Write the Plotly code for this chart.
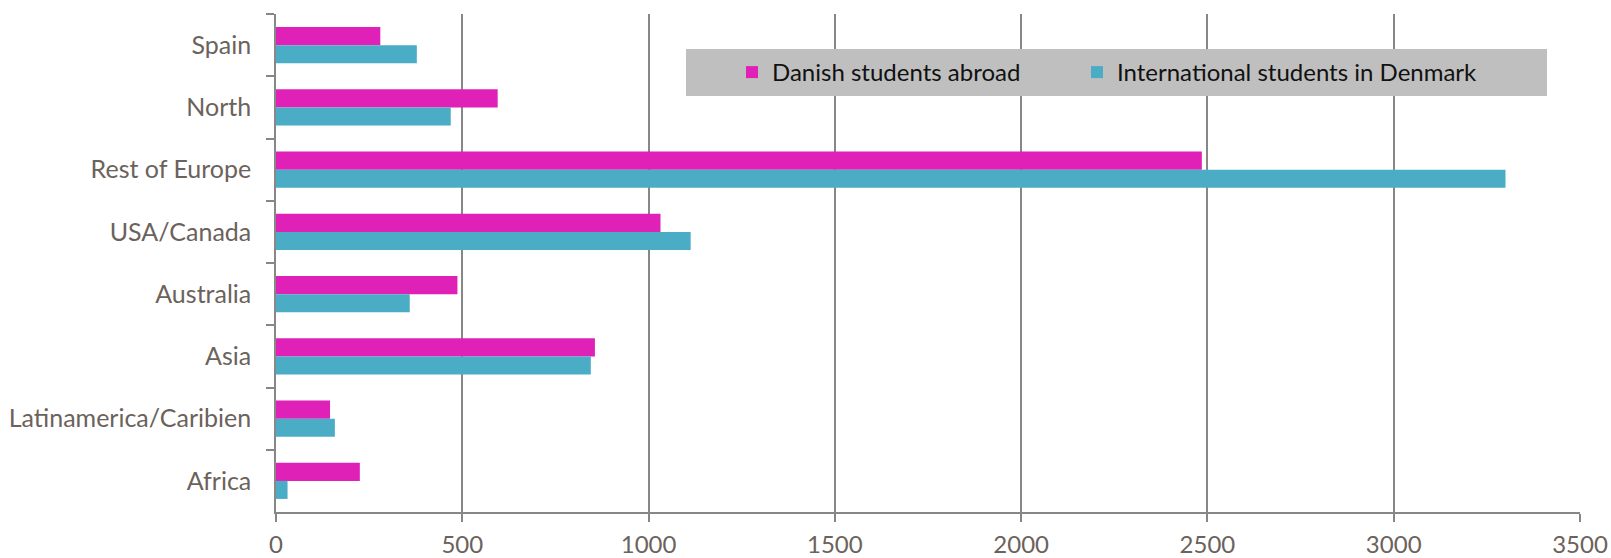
import plotly.graph_objects as go

categories = ["Spain", "North", "Rest of Europe", "USA/Canada", "Australia", "Asia",
              "Latinamerica/Caribien", "Africa"]
danish_abroad = [280, 595, 2485, 1032, 487, 856, 145, 225]
international_in_dk = [378, 469, 3300, 1113, 359, 845, 158, 31]
series_names = ["Danish students abroad", "International students in Denmark"]
x_ticks = [0, 500, 1000, 1500, 2000, 2500, 3000, 3500]

MAGENTA = "#DF21B7"
CYAN = "#4BACC6"
TEXT = "#6B625B"
GRID = "#878787"
FONT = "Lato"
FS = 25

W, H = 1611, 558
ml, mr, mt, mb = 276, 31, 14, 46
pw = W - ml - mr
ph = H - mt - mb


def px_x(px):
    return (px - ml) / pw


def px_y(py):
    return 1 - (py - mt) / ph


fig = go.Figure()
fig.add_trace(go.Bar(y=categories, x=danish_abroad, name=series_names[0], orientation="h",
                     marker=dict(color=MAGENTA, line=dict(width=0)), legend="legend"))
fig.add_trace(go.Bar(y=categories, x=international_in_dk, name=series_names[1], orientation="h",
                     marker=dict(color=CYAN, line=dict(width=0)), legend="legend2"))

legend_common = dict(
    orientation="h", xanchor="left", yanchor="middle", y=px_y(72.5),
    bgcolor="rgba(0,0,0,0)", borderwidth=0,
    font=dict(family=FONT, size=FS - 1, color="#111111"),
)

fig.update_layout(
    width=W, height=H,
    margin=dict(l=ml, r=mr, t=mt, b=mb, pad=0, autoexpand=False),
    paper_bgcolor="white", plot_bgcolor="white",
    barmode="group", bargap=0.42, bargroupgap=0,
    font=dict(family=FONT, size=FS, color=TEXT),
    showlegend=True,
    legend=dict(x=px_x(732), **legend_common),
    legend2=dict(x=px_x(1077), **legend_common),
    shapes=[dict(type="rect", xref="paper", yref="paper",
                 x0=px_x(686), x1=px_x(1547), y0=px_y(96), y1=px_y(49),
                 fillcolor="#BFBFBF", line=dict(width=0), layer="above")],
)

fig.update_xaxes(
    range=[0, 3500], tickvals=x_ticks, ticktext=[str(v) for v in x_ticks],
    showgrid=True, gridcolor=GRID, gridwidth=1.5,
    showline=True, linecolor=GRID, linewidth=1.5,
    ticks="outside", ticklen=8, tickcolor=GRID, tickwidth=1.5,
    zeroline=False, ticklabelstandoff=2, automargin=False,
    tickfont=dict(family=FONT, size=24, color=TEXT),
)
fig.update_yaxes(
    autorange="reversed", type="category",
    showgrid=False,
    showline=True, linecolor=GRID, linewidth=1.5,
    ticks="outside", ticklen=8, tickcolor=GRID, tickwidth=1.5,
    tickson="boundaries", ticklabelstandoff=18, automargin=False,
    tickfont=dict(family=FONT, size=FS, color=TEXT),
)

fig.write_html("out.html")
